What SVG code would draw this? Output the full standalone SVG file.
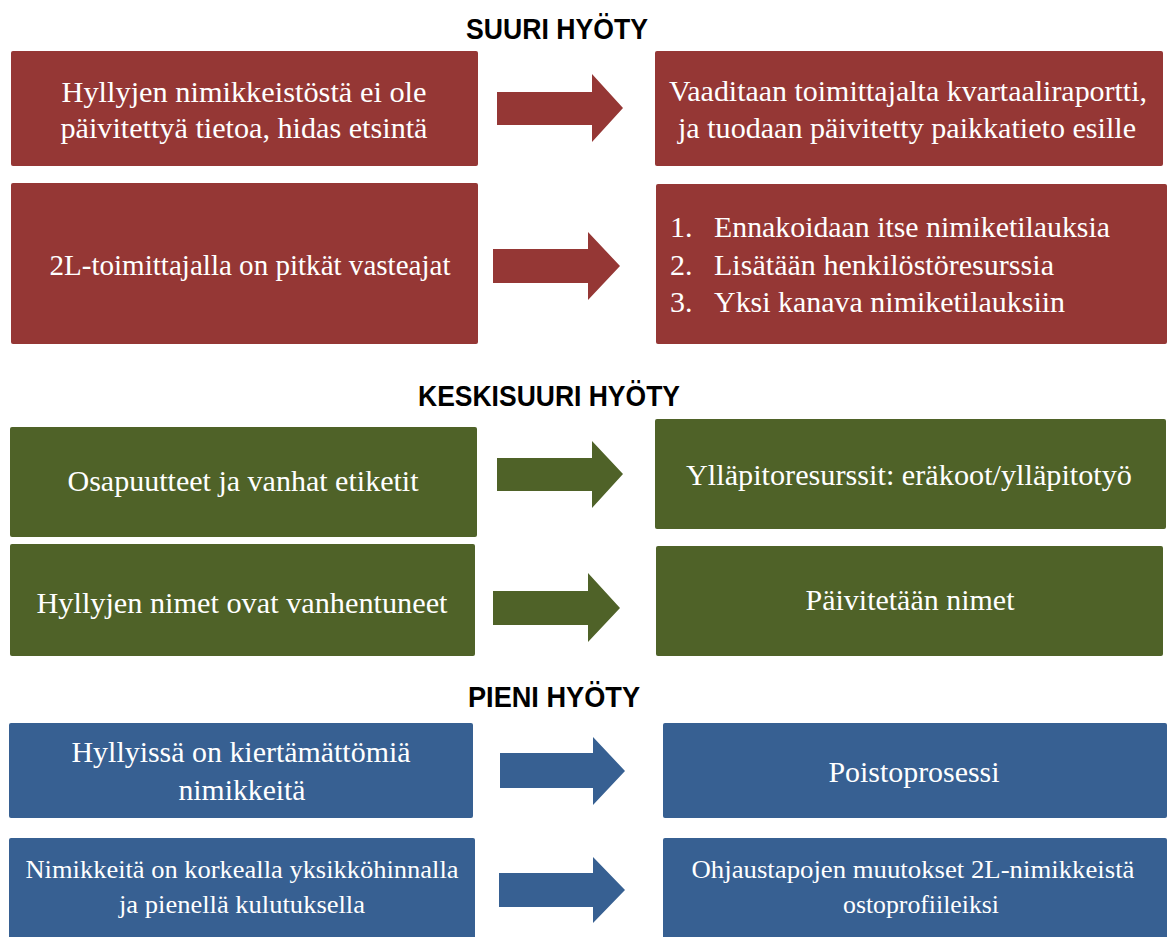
<svg xmlns="http://www.w3.org/2000/svg" width="1169" height="937" viewBox="0 0 1169 937">
<style>
.bg{fill:#ffffff}
.red{fill:#953735}
.green{fill:#4F6228}
.blue{fill:#376092}
.t{font-family:"Liberation Serif","Times New Roman",serif;font-size:30px;fill:#ffffff;text-anchor:middle}
.ts{font-family:"Liberation Serif","Times New Roman",serif;font-size:25px;fill:#ffffff;text-anchor:middle}
.tl{font-family:"Liberation Serif","Times New Roman",serif;font-size:30px;fill:#ffffff;text-anchor:start}
.h{font-family:"Liberation Sans",Arial,sans-serif;font-size:29px;font-weight:bold;fill:#000000;text-anchor:start}
</style>
<rect class="bg" x="0" y="0" width="1169" height="937"/>
<g id="titles">
<text class="h" x="466" y="39" textLength="182" lengthAdjust="spacingAndGlyphs">SUURI HYÖTY</text>
<text class="h" x="418" y="406" textLength="262" lengthAdjust="spacingAndGlyphs">KESKISUURI HYÖTY</text>
<text class="h" x="468" y="707" textLength="172" lengthAdjust="spacingAndGlyphs">PIENI HYÖTY</text>
</g>
<g id="r1l">
<rect class="red" x="11" y="51" width="467" height="115" rx="2"/>
<text class="t" x="244" y="102" textLength="365" lengthAdjust="spacingAndGlyphs">Hyllyjen nimikkeistöstä ei ole</text>
<text class="t" x="244" y="138" textLength="367" lengthAdjust="spacingAndGlyphs">päivitettyä tietoa, hidas etsintä</text>
</g>
<g id="r1r">
<rect class="red" x="655" y="51" width="508" height="115" rx="2"/>
<text class="t" x="908" y="101" textLength="478" lengthAdjust="spacingAndGlyphs">Vaaditaan toimittajalta kvartaaliraportti,</text>
<text class="t" x="907" y="138" textLength="458" lengthAdjust="spacingAndGlyphs">ja tuodaan päivitetty paikkatieto esille</text>
</g>
<g id="r2l">
<rect class="red" x="11" y="183" width="467" height="161" rx="2"/>
<text class="t" x="250" y="275" textLength="401" lengthAdjust="spacingAndGlyphs">2L-toimittajalla on pitkät vasteajat</text>
</g>
<g id="r2r">
<rect class="red" x="656" y="184" width="511" height="160" rx="2"/>
<text class="tl" x="670" y="237">1.</text>
<text class="tl" x="714" y="237" textLength="396" lengthAdjust="spacingAndGlyphs">Ennakoidaan itse nimiketilauksia</text>
<text class="tl" x="670" y="275">2.</text>
<text class="tl" x="714" y="275" textLength="340" lengthAdjust="spacingAndGlyphs">Lisätään henkilöstöresurssia</text>
<text class="tl" x="670" y="312">3.</text>
<text class="tl" x="714" y="312" textLength="351" lengthAdjust="spacingAndGlyphs">Yksi kanava nimiketilauksiin</text>
</g>
<g id="g1l">
<rect class="green" x="10" y="427" width="467" height="110" rx="2"/>
<text class="t" x="243" y="491" textLength="351" lengthAdjust="spacingAndGlyphs">Osapuutteet ja vanhat etiketit</text>
</g>
<g id="g1r">
<rect class="green" x="655" y="419" width="511" height="110" rx="2"/>
<text class="t" x="909" y="485" textLength="446" lengthAdjust="spacingAndGlyphs">Ylläpitoresurssit: eräkoot/ylläpitotyö</text>
</g>
<g id="g2l">
<rect class="green" x="10" y="544" width="465" height="112" rx="2"/>
<text class="t" x="242" y="613" textLength="411" lengthAdjust="spacingAndGlyphs">Hyllyjen nimet ovat vanhentuneet</text>
</g>
<g id="g2r">
<rect class="green" x="656" y="546" width="507" height="110" rx="2"/>
<text class="t" x="910" y="610" textLength="209" lengthAdjust="spacingAndGlyphs">Päivitetään nimet</text>
</g>
<g id="b1l">
<rect class="blue" x="9" y="723" width="464" height="95" rx="2"/>
<text class="t" x="241" y="762" textLength="339" lengthAdjust="spacingAndGlyphs">Hyllyissä on kiertämättömiä</text>
<text class="t" x="242" y="800" textLength="127" lengthAdjust="spacingAndGlyphs">nimikkeitä</text>
</g>
<g id="b1r">
<rect class="blue" x="663" y="723" width="504" height="95" rx="2"/>
<text class="t" x="914" y="782" textLength="171" lengthAdjust="spacingAndGlyphs">Poistoprosessi</text>
</g>
<g id="b2l">
<rect class="blue" x="9" y="838" width="466" height="104" rx="2"/>
<text class="ts" x="242" y="878" textLength="433" lengthAdjust="spacingAndGlyphs">Nimikkeitä on korkealla yksikköhinnalla</text>
<text class="ts" x="242" y="913" textLength="246" lengthAdjust="spacingAndGlyphs">ja pienellä kulutuksella</text>
</g>
<g id="b2r">
<rect class="blue" x="663" y="838" width="504" height="104" rx="2"/>
<text class="ts" x="913" y="878" textLength="443" lengthAdjust="spacingAndGlyphs">Ohjaustapojen muutokset 2L-nimikkeistä</text>
<text class="ts" x="921" y="913" textLength="156" lengthAdjust="spacingAndGlyphs">ostoprofiileiksi</text>
</g>
<g id="connectors">
<polygon class="red" points="497,92 592,92 592,74 623,108 592,142 592,125 497,125"/>
<polygon class="red" points="493,249 588,249 588,232 620,266 588,300 588,283 493,283"/>
<polygon class="green" points="497,458 592,458 592,441 623,474 592,508 592,491 497,491"/>
<polygon class="green" points="493,591 588,591 588,573 620,608 588,642 588,625 493,625"/>
<polygon class="blue" points="500,753 593,753 593,737 625,771 593,805 593,788 500,788"/>
<polygon class="blue" points="499,873 593,873 593,857 625,890 593,923 593,907 499,907"/>
</g>
</svg>
